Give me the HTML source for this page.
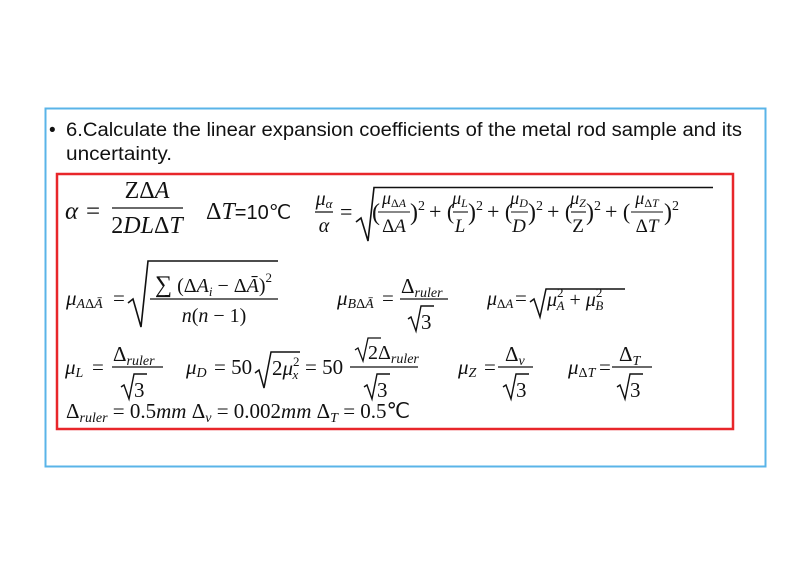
<!DOCTYPE html>
<html><head><meta charset="utf-8"><style>
html,body{margin:0;padding:0;background:#fff;}
svg{display:block}
.m{font-family:"Liberation Serif",serif;}
.s{font-family:"Liberation Sans",sans-serif;}
</style></head><body>
<svg width="798" height="565" viewBox="0 0 798 565" xmlns="http://www.w3.org/2000/svg">
<rect x="0" y="0" width="798" height="565" fill="#fff"/>
<rect x="45.5" y="108.5" width="720" height="358" fill="none" stroke="#5ab4e8" stroke-width="2"/>
<rect x="57" y="174" width="676" height="255" fill="none" stroke="#e8262a" stroke-width="2.5"/>
<g class="s" font-size="19" fill="#111">
<text x="49" y="136">•</text>
<text x="66" y="136" textLength="676" lengthAdjust="spacingAndGlyphs">6.Calculate the linear expansion coefficients of the metal rod sample and its</text>
<text x="66" y="160" textLength="106" lengthAdjust="spacingAndGlyphs">uncertainty.</text>
</g>
<g class="m" fill="#111" stroke="none">
<text x="65" y="219" font-size="25" font-style="italic">α</text>
<text x="86" y="219" font-size="25">=</text>
<text x="147" y="198" font-size="24" text-anchor="middle">Z<tspan>Δ</tspan><tspan font-style="italic">A</tspan></text>
<line x1="112" y1="208" x2="183" y2="208" stroke="#111" stroke-width="1.3"/>
<text x="147" y="233" font-size="24" text-anchor="middle">2<tspan font-style="italic">DL</tspan>Δ<tspan font-style="italic">T</tspan></text>
<text x="206" y="219" font-size="24">Δ<tspan font-style="italic">T</tspan><tspan font-family="Liberation Sans,sans-serif" font-size="20">=10℃</tspan></text>
<text x="324" y="205" font-size="20" text-anchor="middle" font-style="italic">μ<tspan font-size="13" dy="3">α</tspan></text>
<line x1="315" y1="212" x2="333" y2="212" stroke="#111" stroke-width="1.2"/>
<text x="324" y="232" font-size="20" text-anchor="middle" font-style="italic">α</text>
<text x="340" y="219" font-size="22">=</text>
<path d="M356 222 L361 218 L368 241 L374 187.5 L713 187.5" fill="none" stroke="#111" stroke-width="1.6"/>
<text x="372" y="220" font-size="24">(</text>
<text x="394" y="204" font-size="18" text-anchor="middle" font-style="italic">μ<tspan font-size="12" dy="3" font-style="normal">Δ</tspan><tspan font-size="12">A</tspan></text>
<line x1="378" y1="212" x2="410" y2="212" stroke="#111" stroke-width="1.1"/>
<text x="394" y="232" font-size="19" text-anchor="middle">Δ<tspan font-style="italic">A</tspan></text>
<text x="410" y="220" font-size="24">)<tspan font-size="14" dy="-10">2</tspan></text>
<text x="429" y="219" font-size="22">+ (</text>
<text x="460" y="204" font-size="18" text-anchor="middle" font-style="italic">μ<tspan font-size="12" dy="3">L</tspan></text>
<line x1="453" y1="212" x2="468" y2="212" stroke="#111" stroke-width="1.1"/>
<text x="460" y="232" font-size="19" text-anchor="middle" font-style="italic">L</text>
<text x="468" y="220" font-size="24">)<tspan font-size="14" dy="-10">2</tspan></text>
<text x="487" y="219" font-size="22">+ (</text>
<text x="519" y="204" font-size="18" text-anchor="middle" font-style="italic">μ<tspan font-size="12" dy="3">D</tspan></text>
<line x1="511" y1="212" x2="528" y2="212" stroke="#111" stroke-width="1.1"/>
<text x="519" y="232" font-size="19" text-anchor="middle" font-style="italic">D</text>
<text x="528" y="220" font-size="24">)<tspan font-size="14" dy="-10">2</tspan></text>
<text x="547" y="219" font-size="22">+ (</text>
<text x="578" y="204" font-size="18" text-anchor="middle" font-style="italic">μ<tspan font-size="12" dy="3">Z</tspan></text>
<line x1="571" y1="212" x2="586" y2="212" stroke="#111" stroke-width="1.1"/>
<text x="578" y="232" font-size="19" text-anchor="middle">Z</text>
<text x="586" y="220" font-size="24">)<tspan font-size="14" dy="-10">2</tspan></text>
<text x="605" y="219" font-size="22">+ (</text>
<text x="647" y="204" font-size="18" text-anchor="middle" font-style="italic">μ<tspan font-size="12" dy="3" font-style="normal">Δ</tspan><tspan font-size="12">T</tspan></text>
<line x1="631" y1="212" x2="663" y2="212" stroke="#111" stroke-width="1.1"/>
<text x="647" y="232" font-size="19" text-anchor="middle">Δ<tspan font-style="italic">T</tspan></text>
<text x="664" y="220" font-size="24">)<tspan font-size="14" dy="-10">2</tspan></text>

<text x="66" y="305" font-size="21" font-style="italic">μ<tspan font-size="14" dy="3">A</tspan><tspan font-size="14" font-style="normal">Δ</tspan><tspan font-size="14">Ā</tspan></text>
<text x="113" y="305" font-size="21">=</text>
<path d="M128 303 L133 299 L141 327 L148 261 L278 261" fill="none" stroke="#111" stroke-width="1.6"/>
<text x="155" y="292" font-size="20"><tspan font-size="24">∑</tspan> (Δ<tspan font-style="italic">A</tspan><tspan font-size="13" font-style="italic" dy="4">i</tspan><tspan dy="-4"> − Δ</tspan><tspan font-style="italic">Ā</tspan>)<tspan font-size="13" dy="-10">2</tspan></text>
<line x1="150" y1="299" x2="278" y2="299" stroke="#111" stroke-width="1.2"/>
<text x="214" y="322" font-size="20" text-anchor="middle" font-style="italic">n<tspan font-style="normal">(</tspan>n<tspan font-style="normal"> − 1)</tspan></text>

<text x="337" y="305" font-size="21" font-style="italic">μ<tspan font-size="14" dy="3">B</tspan><tspan font-size="14" font-style="normal">Δ</tspan><tspan font-size="14">Ā</tspan></text>
<text x="382" y="305" font-size="21">=</text>
<text x="401" y="293" font-size="21">Δ<tspan font-size="14" font-style="italic" dy="4">ruler</tspan></text>
<line x1="400" y1="299" x2="448" y2="299" stroke="#111" stroke-width="1.2"/>
<path d="M408 319 L411 317 L416 331 L421 306 L434 306" fill="none" stroke="#111" stroke-width="1.4"/>
<text x="421" y="329" font-size="21">3</text>

<text x="487" y="305" font-size="20" font-style="italic">μ<tspan font-size="13" dy="3" font-style="normal">Δ</tspan><tspan font-size="13">A</tspan></text>
<text x="515" y="305" font-size="21">=</text>
<path d="M530 302 L534 299 L540 317 L546 289 L625 289" fill="none" stroke="#111" stroke-width="1.5"/>
<text x="547" y="306" font-size="20" font-style="italic">μ<tspan font-size="13" dy="-9" font-style="normal">2</tspan><tspan font-size="13" dx="-7" dy="13">A</tspan><tspan dy="-4" font-style="normal"> + </tspan>μ<tspan font-size="13" dy="-9" font-style="normal">2</tspan><tspan font-size="13" dx="-7" dy="13">B</tspan></text>

<text x="65" y="374" font-size="21" font-style="italic">μ<tspan font-size="14" dy="3">L</tspan></text>
<text x="92" y="374" font-size="21">=</text>
<text x="113" y="361" font-size="21">Δ<tspan font-size="14" font-style="italic" dy="4">ruler</tspan></text>
<line x1="112" y1="367" x2="163" y2="367" stroke="#111" stroke-width="1.2"/>
<path d="M121 387 L124 385 L129 399 L134 374 L147 374" fill="none" stroke="#111" stroke-width="1.4"/>
<text x="134" y="397" font-size="21">3</text>

<text x="186" y="374" font-size="21" font-style="italic">μ<tspan font-size="14" dy="3">D</tspan></text>
<text x="214" y="374" font-size="21">= 50</text>
<path d="M255 373 L259 370 L264 388 L271 352 L300 352" fill="none" stroke="#111" stroke-width="1.5"/>
<text x="272" y="375" font-size="21">2<tspan font-style="italic">μ</tspan><tspan font-size="13" dy="-9">2</tspan><tspan font-size="13" font-style="italic" dx="-7" dy="13">x</tspan></text>
<text x="305" y="374" font-size="21">= 50</text>
<path d="M355 350 L358 348 L363 361 L368 338 L381 338" fill="none" stroke="#111" stroke-width="1.3"/>
<text x="368" y="359" font-size="20">2Δ<tspan font-size="14" font-style="italic" dy="4">ruler</tspan></text>
<line x1="350" y1="367" x2="418" y2="367" stroke="#111" stroke-width="1.2"/>
<path d="M364 387 L367 385 L372 399 L377 374 L390 374" fill="none" stroke="#111" stroke-width="1.4"/>
<text x="377" y="397" font-size="21">3</text>

<text x="458" y="374" font-size="21" font-style="italic">μ<tspan font-size="14" dy="3">Z</tspan></text>
<text x="484" y="374" font-size="21">=</text>
<text x="505" y="361" font-size="21">Δ<tspan font-size="14" font-style="italic" dy="4">v</tspan></text>
<line x1="498" y1="367" x2="533" y2="367" stroke="#111" stroke-width="1.2"/>
<path d="M503 387 L506 385 L511 399 L516 374 L529 374" fill="none" stroke="#111" stroke-width="1.4"/>
<text x="516" y="397" font-size="21">3</text>

<text x="568" y="374" font-size="21" font-style="italic">μ<tspan font-size="14" dy="3" font-style="normal">Δ</tspan><tspan font-size="14">T</tspan></text>
<text x="599" y="374" font-size="21">=</text>
<text x="619" y="361" font-size="21">Δ<tspan font-size="14" font-style="italic" dy="4">T</tspan></text>
<line x1="612" y1="367" x2="652" y2="367" stroke="#111" stroke-width="1.2"/>
<path d="M617 387 L620 385 L625 399 L630 374 L643 374" fill="none" stroke="#111" stroke-width="1.4"/>
<text x="630" y="397" font-size="21">3</text>

<text x="66" y="418" font-size="21">Δ<tspan font-size="14" font-style="italic" dy="4">ruler</tspan><tspan dy="-4"> = 0.5</tspan><tspan font-style="italic">mm</tspan><tspan>  Δ</tspan><tspan font-size="14" font-style="italic" dy="4">v</tspan><tspan dy="-4"> = 0.002</tspan><tspan font-style="italic">mm</tspan><tspan>   Δ</tspan><tspan font-size="14" font-style="italic" dy="4">T</tspan><tspan dy="-4"> = 0.5℃</tspan></text>
</g>
</svg>
</body></html>
